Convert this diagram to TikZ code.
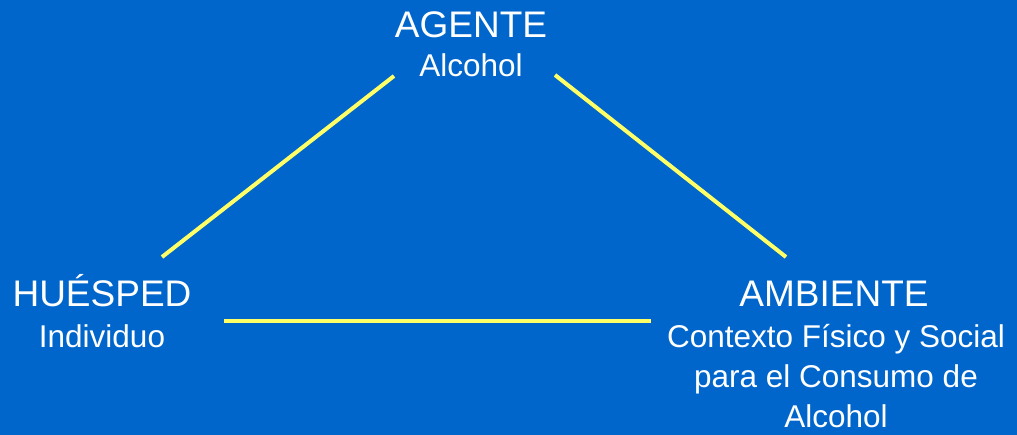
\documentclass[tikz,border=0pt]{standalone}
\usepackage{fontspec}
\setmainfont{Liberation Sans}
\definecolor{fondo}{RGB}{0,102,204}
\definecolor{amarillo}{RGB}{255,255,102}

\begin{document}
\begin{tikzpicture}[x=1pt, y=-1pt, every node/.style={inner sep=0pt, text=white, anchor=base}]

\tikzset{
    titulo/.style={font=\fontsize{37}{44}\selectfont},
    sub/.style={font=\fontsize{31.5}{40}\selectfont, align=center},
    arista/.style={draw=amarillo, line width=4pt}
}

\fill[fondo] (0,0) rectangle (1017,435);
\useasboundingbox (0,0) rectangle (1017,435);

\node[titulo] (agente) at (471,38) {AGENTE};
\node[sub] (alcohol) at (471,77) {Alcohol};

\node[titulo] (huesped) at (102,307) {HUÉSPED};
\node[sub] (individuo) at (102,348) {Individuo};

\node[titulo] (ambiente) at (834,307) {AMBIENTE};
% base of a multi-line node is its last line
\node[sub] (contexto) at (836,427) {Contexto Físico y Social\\para el Consumo de\\Alcohol};

\draw[arista] ([shift={(60,-50)}]huesped.base) -- ([shift={(-77,-1)}]alcohol.base);
\draw[arista] ([shift={(84,-2)}]alcohol.base) -- ([shift={(-48,-50)}]ambiente.base);
\draw[arista] ([shift={(122,-27)}]individuo.base) -- ([shift={(-185,-106)}]contexto.base);

\end{tikzpicture}
\end{document}
